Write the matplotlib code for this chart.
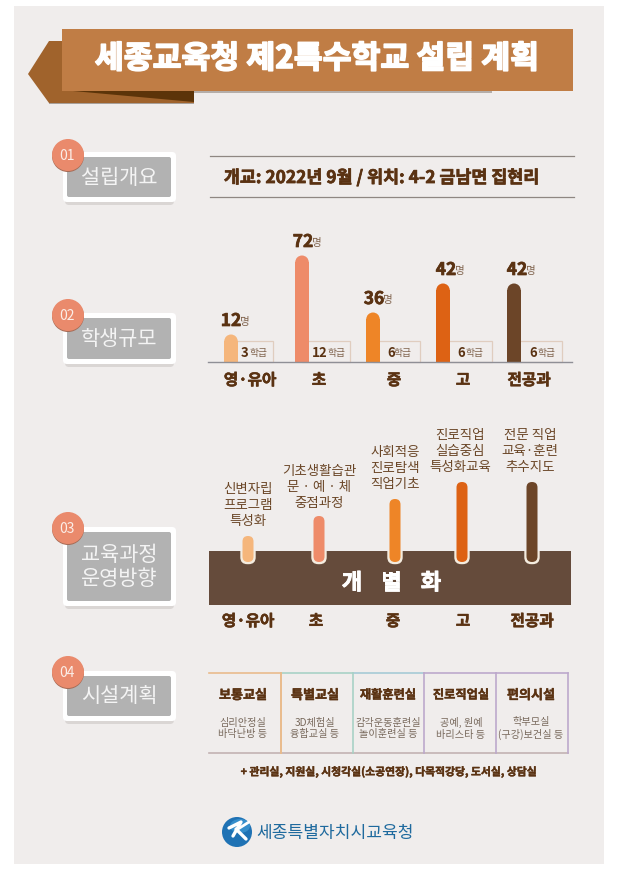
import matplotlib
matplotlib.use("Agg")
import matplotlib.pyplot as plt
import matplotlib.patheffects as pe
from matplotlib.patches import Rectangle, Polygon, Circle, Ellipse, FancyBboxPatch

plt.rcParams['font.family'] = ['Noto Sans CJK KR', 'DejaVu Sans']

title = "세종교육청 제2특수학교 설립 계획"
overview = "개교: 2022년 9월 / 위치: 4-2 금남면 집현리"
sections = [("01", "설립개요"), ("02", "학생규모"), ("03", "교육과정\n운영방향"), ("04", "시설계획")]
levels = ["영·유아", "초", "중", "고", "전공과"]
students = ["12", "72", "36", "42", "42"]
classes = ["3", "12", "6", "6", "6"]
bar_heights = [27, 106, 49, 78, 78]      # drawn height, not proportional in the source
course_heights = [26, 46, 63, 80, 80]
bar_colors = ["#f5b67c", "#ee8b69", "#ee8527", "#dd6214", "#6c4528"]
courses = ["신변자립\n프로그램\n특성화", "기초생활습관\n문 · 예 · 체\n중점과정", "사회적응\n진로탐색\n직업기초",
           "진로직업\n실습중심\n특성화교육", "전문 직업\n교육·훈련\n추수지도"]
rooms = ["보통교실", "특별교실", "재활훈련실", "진로직업실", "편의시설"]
room_details = ["심리안정실\n바닥난방 등", "3D체험실\n융합교실 등", "감각운동훈련실\n놀이훈련실 등",
                "공예, 원예\n바리스타 등", "학부모실\n(구강)보건실 등"]
room_edge_colors = ["#e9bb8c", "#a9d2c6", "#a6cbd6", "#bda9cc", "#bda9cc"]
note = "+ 관리실, 지원실, 시청각실(소공연장), 다목적강당, 도서실, 상담실"
org = "세종특별자치시교육청"

BROWN = "#5a3212"
fig = plt.figure(figsize=(6.17, 8.78), dpi=100, facecolor="white")
ax = fig.add_axes([0, 0, 1, 1])
ax.set_xlim(0, 617); ax.set_ylim(878, 0); ax.axis("off")

ax.add_patch(Rectangle((14, 7), 590, 858, fc="#f0edec", ec="none"))

# title ribbon
ax.add_patch(Rectangle((66, 92), 426, 2, fc="#b5aea9", ec="none"))
ax.add_patch(Polygon([(28, 75), (49, 42), (70, 42), (70, 104), (49, 104)], fc="#a0632c", ec="none"))
ax.add_patch(Rectangle((49, 104), 145, 1.2, fc="#a8a09a", ec="none"))
ax.add_patch(Polygon([(49, 104), (62, 92), (194, 92), (194, 104)], fc="#a0632c", ec="none"))
ax.add_patch(Polygon([(62, 91), (194, 91), (194, 103)], fc="#5c3409", ec="none"))
ax.add_patch(Rectangle((62, 30), 511, 62, fc="#c07d45", ec="none"))
ax.text(317, 60, title, color="white", fontsize=22.6, fontweight="black", ha="center", va="center",
        path_effects=[pe.withStroke(linewidth=1.2, foreground="white")])


def button(y0, y1, label, num, cy):
    ax.add_patch(FancyBboxPatch((65, y0 + 4), 109, y1 - y0 - 1, boxstyle="round,pad=0,rounding_size=4",
                                fc="#b9b4b2", ec="none", alpha=0.4))
    ax.add_patch(FancyBboxPatch((63, y0), 113, y1 - y0, boxstyle="round,pad=0,rounding_size=4",
                                fc="white", ec="none"))
    ax.add_patch(FancyBboxPatch((67, y0 + 5), 104, y1 - y0 - 10, boxstyle="round,pad=0,rounding_size=2",
                                fc="#b2b2b2", ec="none"))
    ax.text(119, (y0 + y1) / 2 - 0.5, label, color="#f4f4f4", fontsize=15, ha="center", va="center",
            linespacing=1.12)
    ax.add_patch(Circle((68, cy + 1), 16, fc="#a56a55", ec="none"))
    ax.add_patch(Circle((68, cy), 16, fc="#ea8a6c", ec="none"))
    ax.text(67, cy, num, color="#fbeee8", fontsize=10, ha="center", va="center")


spans = [(153, 203, 156), (314, 365, 316), (528, 607, 529), (672, 722, 673)]
for (num, label), (y0, y1, cy) in zip(sections, spans):
    button(y0, y1, label, num, cy)

# overview
ax.plot([210, 574], [157, 157], color="#8f8782", lw=0.9)
ax.plot([210, 574], [198, 198], color="#8f8782", lw=0.9)
ax.text(382, 179, overview, color=BROWN, fontsize=12.5, fontweight="black", ha="center", va="center",
        path_effects=[pe.withStroke(linewidth=0.5, foreground=BROWN)])


def rounded_bar(x, base, h, w, color):
    r = w / 2
    ax.bar(x, -(h - r), bottom=base, width=w, color=color, linewidth=0, zorder=4)
    ax.add_patch(Ellipse((x, base - h + r), w, w, fc=color, ec="none", zorder=4))


# student bars
BASE = 362.5
bar_x = [231, 302, 373, 443, 514]
box_right = [273, 350, 420, 492, 562]
class_x = [245, 320, 391, 461, 533]
unit_x = [258, 337, 403, 474, 546]
value_x = [231, 303, 374, 446, 517]
cat_x = [250, 319, 394, 463, 529]
for i, lv in enumerate(levels):
    ax.add_patch(Rectangle((bar_x[i], 342), box_right[i] - bar_x[i], BASE - 342, fc="none", ec="#e0cdbf", lw=0.9))
    rounded_bar(bar_x[i], BASE, bar_heights[i], 13.5, bar_colors[i])
    top = BASE - bar_heights[i]
    ax.text(value_x[i], top - 13.5, students[i], color=BROWN, fontsize=12.5, fontweight="black",
            ha="center", va="center",
            path_effects=[pe.withStroke(linewidth=0.5, foreground=BROWN)])
    ax.text(value_x[i] + 14, top - 13, "명", color="#80634d", fontsize=7.5, ha="center", va="center")
    ax.text(class_x[i], 353, classes[i], color=BROWN, fontsize=9.5, fontweight="black", ha="center", va="center")
    ax.text(unit_x[i], 353.5, "학급", color="#80634d", fontsize=7, ha="center", va="center")
    ax.text(cat_x[i], 381, lv, color=BROWN, fontsize=11.3, fontweight="black", ha="center", va="center",
            path_effects=[pe.withStroke(linewidth=0.4, foreground=BROWN)])
ax.plot([208, 572], [BASE, BASE], color="#8f8f96", lw=1, zorder=5)

# curriculum
ax.add_patch(Rectangle((209, 552), 362, 54, fc="#654b3b", ec="none"))
course_x = [248, 319, 395, 462, 532]
course_text_x = [248, 319, 395, 460, 530]
course_text_y = [505, 487, 468, 451, 451]
course_cat_x = [248, 316, 393, 463, 532]
COURSE_BASE = 563
for i, lv in enumerate(levels):
    h = course_heights[i]
    ax.add_patch(FancyBboxPatch((course_x[i] - 5.5, COURSE_BASE - h), 11, h,
                                boxstyle="round,pad=2.2,rounding_size=7", fc="#f4ecdf", ec="none", zorder=2))
    ax.add_patch(FancyBboxPatch((course_x[i] - 5.5, COURSE_BASE - h), 11, h,
                                boxstyle="round,pad=0,rounding_size=5.5", fc=bar_colors[i], ec="none", zorder=3))
    ax.text(course_text_x[i], course_text_y[i], courses[i], color="#6b4728", fontsize=9.7, fontweight="medium",
            ha="center", va="center", linespacing=1.22)
    ax.text(course_cat_x[i], 622, lv, color=BROWN, fontsize=11.3, fontweight="black", ha="center", va="center",
            path_effects=[pe.withStroke(linewidth=0.4, foreground=BROWN)])
# the pale outline only shows over the band
for i in range(5):
    h = course_heights[i]
    ax.add_patch(Rectangle((course_x[i] - 9, COURSE_BASE - h - 4), 18, h + 4 - 11, fc="#f0edec", ec="none", zorder=2.5))
for ch, cx in zip("개별화", [352, 391, 431]):
    ax.text(cx, 584, ch, color="white", fontsize=16, fontweight="black", ha="center", va="center", zorder=5,
            path_effects=[pe.withStroke(linewidth=0.6, foreground="white")])

# facilities
edges = [209, 281, 353, 424, 496, 568]
room_x = [243, 315, 388, 461, 531]
for i in range(5):
    l, r = edges[i], edges[i + 1]
    c = room_edge_colors[i]
    ax.plot([l, r], [674, 674], color=c, lw=1.2)
    ax.plot([l, r], [754, 754], color="#c3b3b3", lw=1.2)
    if i > 0:
        ax.plot([l, l], [674, 754], color=room_edge_colors[i - 1] if i < 3 else c, lw=1.2)
    ax.text(room_x[i], 696, rooms[i], color=BROWN, fontsize=9.4 if len(rooms[i]) < 5 else 8.8, fontweight="black",
            ha="center", va="center", path_effects=[pe.withStroke(linewidth=0.3, foreground=BROWN)])
    ax.text(room_x[i], 728.5, room_details[i], color="#78695c", fontsize=7.3, ha="center", va="center",
            linespacing=1.2)
ax.plot([568, 568], [674, 754], color=room_edge_colors[4], lw=1.2)
ax.plot([281, 281], [674, 754], color=room_edge_colors[0], lw=1.2)

ax.text(389, 773, note, color=BROWN, fontsize=7.8, fontweight="black", ha="center", va="center",
        path_effects=[pe.withStroke(linewidth=0.3, foreground=BROWN)])

# logo
ax.add_patch(Circle((237, 833), 15, fc="#1f72b4", ec="none"))
ax.add_patch(Ellipse((240, 827), 20, 14, fc="#3f9ad6", ec="none", alpha=0.7))
ax.plot([229, 241, 233], [829, 823, 837], color="white", lw=2.4, solid_capstyle="round")
ax.plot([236, 246], [830, 840], color="white", lw=2.4, solid_capstyle="round")
ax.plot([238, 249], [830, 823], color="white", lw=2, solid_capstyle="round")
ax.text(335, 833, org, color="#1f6a9e", fontsize=12.3, fontweight="medium", ha="center", va="center")

fig.savefig("out.png", dpi=100, facecolor="white")
